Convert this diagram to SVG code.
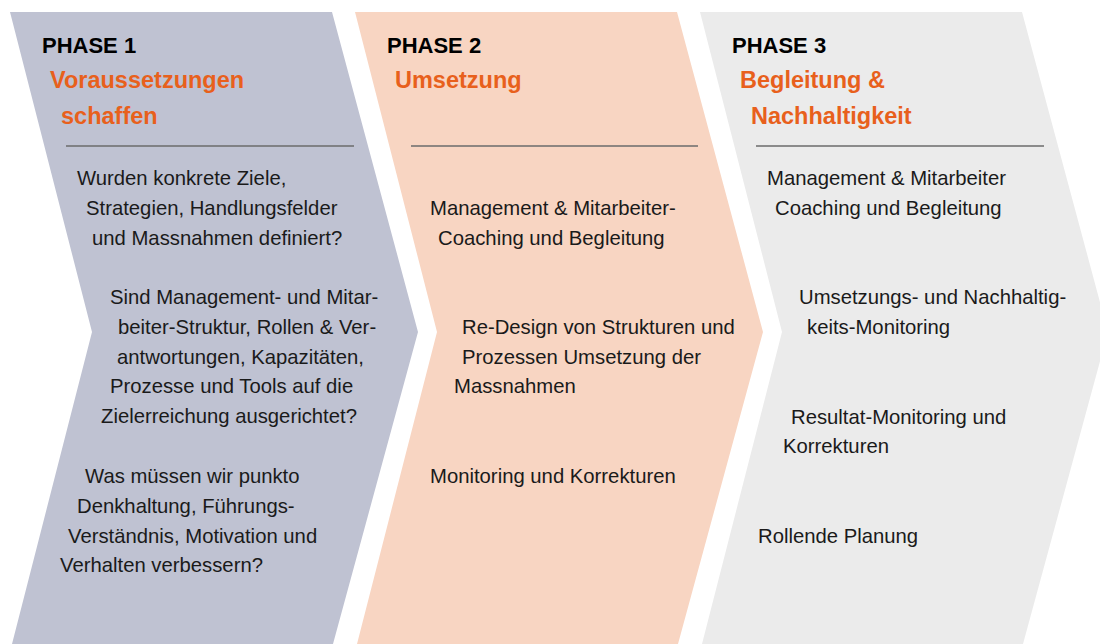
<svg xmlns="http://www.w3.org/2000/svg" width="1100" height="644" viewBox="0 0 1100 644">
  <style>
    .phase { font-family: "Liberation Sans", Arial, sans-serif; font-weight: bold; font-size: 22px; fill: #000000; }
    .title { font-family: "Liberation Sans", Arial, sans-serif; font-weight: bold; font-size: 23.5px; fill: #e8601c; }
    .body { font-family: "Liberation Sans", Arial, sans-serif; font-size: 20.3px; fill: #1a1a1a; }
    .rule { stroke: #6b6b6b; stroke-width: 1.3; }
  </style>
  <defs>
    <!-- one chevron, drawn at origin; each phase shifts it right -->
    <polygon id="chevron" points="0,12 322,12 408,332 323,644 2,644 82,332"/>
  </defs>

  <rect width="1100" height="644" fill="#ffffff"/>

  <g id="phase1">
    <use href="#chevron" x="10" fill="#bfc2d2"/>
    <text class="phase" x="42" y="53">PHASE 1</text>
    <text class="title" x="50" y="88">Voraussetzungen</text>
    <text class="title" x="61" y="124">schaffen</text>
    <line class="rule" x1="66" y1="146" x2="354" y2="146"/>
    <text class="body" x="77" y="185">Wurden konkrete Ziele,</text>
    <text class="body" x="86" y="215">Strategien, Handlungsfelder</text>
    <text class="body" x="92" y="245">und Massnahmen definiert?</text>
    <text class="body" x="110" y="304">Sind Management- und Mitar-</text>
    <text class="body" x="118" y="334">beiter-Struktur, Rollen &amp; Ver-</text>
    <text class="body" x="117" y="364">antwortungen, Kapazitäten,</text>
    <text class="body" x="110" y="393">Prozesse und Tools auf die</text>
    <text class="body" x="101" y="423">Zielerreichung ausgerichtet?</text>
    <text class="body" x="85" y="483">Was müssen wir punkto</text>
    <text class="body" x="77" y="513">Denkhaltung, Führungs-</text>
    <text class="body" x="68" y="543">Verständnis, Motivation und</text>
    <text class="body" x="60" y="572">Verhalten verbessern?</text>
  </g>

  <g id="phase2">
    <use href="#chevron" x="355" fill="#f8d5c2"/>
    <text class="phase" x="387" y="53">PHASE 2</text>
    <text class="title" x="395" y="88">Umsetzung</text>
    <line class="rule" x1="411" y1="146" x2="698" y2="146"/>
    <text class="body" x="430" y="215">Management &amp; Mitarbeiter-</text>
    <text class="body" x="438" y="245">Coaching und Begleitung</text>
    <text class="body" x="462" y="334">Re-Design von Strukturen und</text>
    <text class="body" x="462" y="364">Prozessen Umsetzung der</text>
    <text class="body" x="454" y="393">Massnahmen</text>
    <text class="body" x="430" y="483">Monitoring und Korrekturen</text>
  </g>

  <g id="phase3">
    <use href="#chevron" x="700" fill="#ebebeb"/>
    <text class="phase" x="732" y="53">PHASE 3</text>
    <text class="title" x="740" y="88">Begleitung &amp;</text>
    <text class="title" x="751" y="124">Nachhaltigkeit</text>
    <line class="rule" x1="756" y1="146" x2="1044" y2="146"/>
    <text class="body" x="767" y="185">Management &amp; Mitarbeiter</text>
    <text class="body" x="775" y="215">Coaching und Begleitung</text>
    <text class="body" x="799" y="304">Umsetzungs- und Nachhaltig-</text>
    <text class="body" x="807" y="334">keits-Monitoring</text>
    <text class="body" x="791" y="424">Resultat-Monitoring und</text>
    <text class="body" x="783" y="453">Korrekturen</text>
    <text class="body" x="758" y="543">Rollende Planung</text>
  </g>

  <g id="connectors"/>
</svg>
